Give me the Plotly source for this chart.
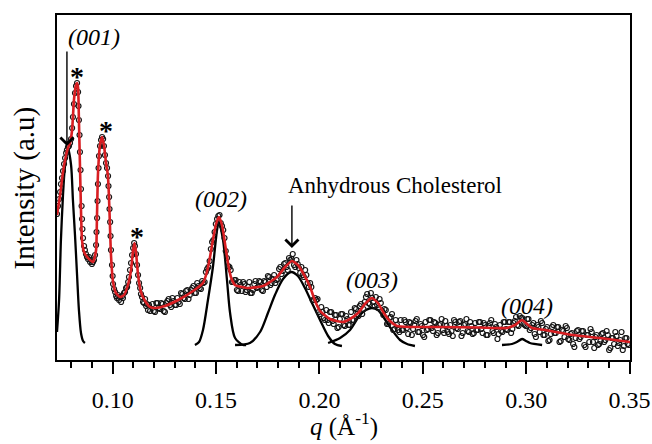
import plotly.graph_objects as go

# ---------------- data ----------------
# measured points, low-q region
qa = [0.0731, 0.0736, 0.0741, 0.0746, 0.0750, 0.0755, 0.0760, 0.0765, 0.0770, 0.0775,
      0.0779, 0.0784, 0.0789, 0.0794, 0.0799, 0.0804, 0.0808, 0.0813, 0.0818, 0.0823,
      0.0828, 0.0833, 0.0835, 0.0837, 0.0840, 0.0842, 0.0845, 0.0847, 0.0850, 0.0852,
      0.0854, 0.0857, 0.0862, 0.0866, 0.0871, 0.0876, 0.0881, 0.0886, 0.0891, 0.0896,
      0.0900, 0.0905, 0.0910, 0.0915, 0.0920, 0.0922, 0.0925, 0.0927, 0.0929, 0.0932,
      0.0934, 0.0939, 0.0944, 0.0949, 0.0954, 0.0958, 0.0963, 0.0968, 0.0973, 0.0978,
      0.0980, 0.0983, 0.0985, 0.0988, 0.0990, 0.0992, 0.0997, 0.1000, 0.1002, 0.1007,
      0.1012, 0.1017, 0.1021, 0.1026, 0.1031, 0.1036, 0.1041, 0.1046, 0.1050, 0.1055,
      0.1060, 0.1065, 0.1070, 0.1075, 0.1079, 0.1084, 0.1089, 0.1094, 0.1099, 0.1104,
      0.1108, 0.1113, 0.1118, 0.1123, 0.1128, 0.1133, 0.1137, 0.1142, 0.1147, 0.1152,
      0.1157, 0.1162, 0.1166, 0.1171, 0.1176, 0.1181]
ia = [146, 154, 161, 168, 176, 182, 189, 196, 202, 207,
      210, 213, 214, 217, 221, 232, 243, 256, 267, 274,
      277, 268, 254, 240, 225, 208, 190, 171, 154, 141,
      131, 122, 114, 110, 106, 103, 101, 103, 98, 100,
      96, 98, 100, 105, 115, 128, 142, 159, 176, 192,
      204, 214, 220, 223, 221, 214, 205, 197, 192, 184,
      174, 163, 151, 138, 124, 110, 95, 84, 76, 71,
      68, 64, 62, 65, 60, 63, 58, 64, 62, 67,
      68, 72, 73, 78, 83, 90, 97, 105, 112, 117,
      114, 106, 95, 85, 77, 72, 66, 63, 58, 57,
      61, 54, 56, 50, 55, 49]

# measured points, higher-q region (first pass)
qb = [0.1193, 0.1205, 0.1217, 0.1229, 0.1241, 0.1253, 0.1265, 0.1277, 0.1289, 0.1301,
      0.1313, 0.1325, 0.1337, 0.1349, 0.1361, 0.1373, 0.1385, 0.1397, 0.1409, 0.1421,
      0.1433, 0.1445, 0.1457, 0.1469, 0.1481, 0.1493, 0.1505, 0.1517, 0.1529, 0.1541,
      0.1553, 0.1565, 0.1577, 0.1589, 0.1601, 0.1613, 0.1625, 0.1637, 0.1649, 0.1661,
      0.1673, 0.1685, 0.1697, 0.1709, 0.1721, 0.1733, 0.1745, 0.1757, 0.1769, 0.1781,
      0.1793, 0.1805, 0.1817, 0.1829, 0.1841, 0.1853, 0.1865, 0.1877, 0.1889, 0.1901,
      0.1913, 0.1925, 0.1937, 0.1949, 0.1961, 0.1973, 0.1985, 0.1997, 0.2009, 0.2021,
      0.2033, 0.2045, 0.2057, 0.2069, 0.2081, 0.2093, 0.2105, 0.2117, 0.2129, 0.2141,
      0.2153, 0.2165, 0.2177, 0.2189, 0.2201, 0.2213, 0.2225, 0.2237, 0.2249, 0.2261,
      0.2273, 0.2285, 0.2297, 0.2309, 0.2321, 0.2333, 0.2345, 0.2357, 0.2369, 0.2381,
      0.2393, 0.2405, 0.2417, 0.2429, 0.2441, 0.2453, 0.2465, 0.2477, 0.2489, 0.2501,
      0.2513, 0.2525, 0.2537, 0.2549, 0.2561, 0.2573, 0.2585, 0.2597, 0.2609, 0.2621,
      0.2633, 0.2645, 0.2657, 0.2669, 0.2681, 0.2693, 0.2705, 0.2717, 0.2729, 0.2741,
      0.2753, 0.2765, 0.2777, 0.2789, 0.2801, 0.2813, 0.2825, 0.2837, 0.2849, 0.2861,
      0.2873, 0.2885, 0.2897, 0.2909, 0.2921, 0.2933, 0.2945, 0.2957, 0.2969, 0.2981,
      0.2993, 0.3005, 0.3017, 0.3029, 0.3041, 0.3053, 0.3065, 0.3077, 0.3089, 0.3101,
      0.3113, 0.3125, 0.3137, 0.3149, 0.3161, 0.3173, 0.3185, 0.3197, 0.3209, 0.3221,
      0.3233, 0.3245, 0.3257, 0.3269, 0.3281, 0.3293, 0.3305, 0.3317, 0.3329, 0.3341,
      0.3353, 0.3365, 0.3377, 0.3389, 0.3401, 0.3413, 0.3425, 0.3437, 0.3449, 0.3461,
      0.3473, 0.3485, 0.3497]
ib = [56, 48, 57, 51, 56, 48, 59, 55, 62, 55,
      62, 56, 66, 61, 70, 65, 72, 67, 77, 72,
      79, 78, 91, 99, 118, 128, 141, 145, 134, 122,
      102, 93, 78, 80, 70, 78, 69, 76, 70, 78,
      67, 76, 72, 79, 70, 79, 73, 83, 77, 85,
      80, 91, 86, 96, 93, 102, 101, 95, 100, 92,
      93, 83, 85, 73, 73, 60, 60, 48, 53, 42,
      50, 37, 48, 36, 45, 33, 46, 35, 44, 35,
      48, 40, 51, 44, 56, 51, 63, 57, 67, 58,
      63, 52, 57, 45, 50, 36, 43, 30, 40, 30,
      40, 30, 38, 26, 37, 31, 39, 28, 36, 25,
      38, 31, 40, 29, 37, 27, 36, 30, 39, 28,
      35, 24, 38, 31, 39, 27, 36, 29, 38, 26,
      37, 30, 38, 27, 35, 25, 37, 29, 36, 21,
      35, 28, 38, 30, 38, 31, 39, 35, 44, 42,
      35, 41, 30, 35, 26, 35, 28, 37, 25, 33,
      20, 33, 27, 33, 18, 30, 23, 32, 20, 27,
      13, 29, 21, 29, 15, 25, 18, 28, 12, 25,
      16, 26, 18, 29, 10, 22, 16, 24, 17, 28,
      14, 22, 15]

# measured points, higher-q region (interleaved second pass)
qc = [0.1199, 0.1211, 0.1223, 0.1235, 0.1247, 0.1259, 0.1271, 0.1283, 0.1295, 0.1307,
      0.1319, 0.1331, 0.1343, 0.1355, 0.1367, 0.1379, 0.1391, 0.1403, 0.1415, 0.1427,
      0.1439, 0.1451, 0.1463, 0.1475, 0.1487, 0.1499, 0.1511, 0.1523, 0.1535, 0.1547,
      0.1559, 0.1571, 0.1583, 0.1595, 0.1607, 0.1619, 0.1631, 0.1643, 0.1655, 0.1667,
      0.1679, 0.1691, 0.1703, 0.1715, 0.1727, 0.1739, 0.1751, 0.1763, 0.1775, 0.1787,
      0.1799, 0.1811, 0.1823, 0.1835, 0.1847, 0.1859, 0.1871, 0.1883, 0.1895, 0.1907,
      0.1919, 0.1931, 0.1943, 0.1955, 0.1967, 0.1979, 0.1991, 0.2003, 0.2015, 0.2027,
      0.2039, 0.2051, 0.2063, 0.2075, 0.2087, 0.2099, 0.2111, 0.2123, 0.2135, 0.2147,
      0.2159, 0.2171, 0.2183, 0.2195, 0.2207, 0.2219, 0.2231, 0.2243, 0.2255, 0.2267,
      0.2279, 0.2291, 0.2303, 0.2315, 0.2327, 0.2339, 0.2351, 0.2363, 0.2375, 0.2387,
      0.2399, 0.2411, 0.2423, 0.2435, 0.2447, 0.2459, 0.2471, 0.2483, 0.2495, 0.2507,
      0.2519, 0.2531, 0.2543, 0.2555, 0.2567, 0.2579, 0.2591, 0.2603, 0.2615, 0.2627,
      0.2639, 0.2651, 0.2663, 0.2675, 0.2687, 0.2699, 0.2711, 0.2723, 0.2735, 0.2747,
      0.2759, 0.2771, 0.2783, 0.2795, 0.2807, 0.2819, 0.2831, 0.2843, 0.2855, 0.2867,
      0.2879, 0.2891, 0.2903, 0.2915, 0.2927, 0.2939, 0.2951, 0.2963, 0.2975, 0.2987,
      0.2999, 0.3011, 0.3023, 0.3035, 0.3047, 0.3059, 0.3071, 0.3083, 0.3095, 0.3107,
      0.3119, 0.3131, 0.3143, 0.3155, 0.3167, 0.3179, 0.3191, 0.3203, 0.3215, 0.3227,
      0.3239, 0.3251, 0.3263, 0.3275, 0.3287, 0.3299, 0.3311, 0.3323, 0.3335, 0.3347,
      0.3359, 0.3371, 0.3383, 0.3395, 0.3407, 0.3419, 0.3431, 0.3443, 0.3455, 0.3467,
      0.3479, 0.3491]
ic = [49, 57, 52, 57, 49, 57, 61, 53, 59, 55,
      58, 67, 62, 69, 61, 70, 74, 67, 74, 71,
      77, 88, 93, 111, 120, 136, 144, 137, 130, 109,
      94, 90, 78, 80, 69, 75, 78, 68, 73, 67,
      70, 79, 73, 78, 69, 78, 84, 75, 81, 77,
      81, 93, 89, 97, 90, 100, 106, 93, 96, 87,
      85, 90, 77, 77, 60, 62, 61, 46, 48, 40,
      40, 48, 39, 45, 32, 41, 46, 34, 41, 35,
      40, 52, 46, 54, 46, 58, 66, 56, 62, 54,
      55, 61, 49, 51, 36, 42, 46, 31, 35, 28,
      30, 40, 32, 38, 25, 35, 41, 28, 34, 23,
      30, 40, 32, 38, 25, 35, 41, 27, 34, 26,
      29, 40, 32, 38, 24, 35, 41, 28, 34, 27,
      30, 38, 31, 37, 25, 34, 40, 27, 33, 26,
      29, 38, 31, 38, 27, 37, 43, 34, 42, 36,
      34, 41, 32, 37, 23, 33, 39, 25, 31, 19,
      26, 35, 27, 33, 19, 29, 34, 21, 26, 16,
      22, 30, 23, 29, 13, 25, 31, 18, 23, 15,
      19, 27, 20, 25, 12, 22, 28, 14, 20, 10,
      22, 16]

# total fit (red)
fit_q = [0.0731, 0.0746, 0.0760, 0.0775, 0.0784, 0.0794, 0.0804, 0.0813, 0.0823, 0.0828,
         0.0833, 0.0837, 0.0842, 0.0847, 0.0852, 0.0862, 0.0881, 0.0905, 0.0920, 0.0924,
         0.0929, 0.0939, 0.0949, 0.0958, 0.0968, 0.0977, 0.0982, 0.0987, 0.0992, 0.1002,
         0.1016, 0.1036, 0.1055, 0.1074, 0.1089, 0.1099, 0.1106, 0.1113, 0.1123, 0.1137,
         0.1157, 0.1181, 0.1205, 0.1253, 0.1326, 0.1389, 0.1437, 0.1456, 0.1471, 0.1485,
         0.1500, 0.1514, 0.1529, 0.1543, 0.1558, 0.1572, 0.1592, 0.1650, 0.1727, 0.1795,
         0.1834, 0.1867, 0.1896, 0.1921, 0.1955, 0.1979, 0.2003, 0.2051, 0.2114, 0.2148,
         0.2187, 0.2220, 0.2254, 0.2283, 0.2308, 0.2341, 0.2375, 0.2438, 0.2583, 0.2777,
         0.2907, 0.2946, 0.2980, 0.3004, 0.3028, 0.3091, 0.3226, 0.3357, 0.3502]
fit_i = [145, 165, 188, 205, 212, 217, 230, 260, 275, 277,
         272, 240, 195, 150, 120, 108, 102, 98, 110, 140,
         185, 215, 223, 215, 197, 185, 165, 135, 105, 78,
         67, 63, 65, 75, 90, 110, 117, 108, 85, 68,
         59, 53, 52, 54, 61, 69, 77, 88, 103, 120,
         136, 143, 135, 117, 97, 83, 75, 72, 74, 83,
         93, 99, 95, 87, 73, 59, 49, 41, 38, 41,
         47, 56, 62, 57, 48, 39, 34, 33, 33, 32.5,
         32, 35, 40, 36, 32, 30, 25, 22, 18]

# component peaks (black)
p001_q = [0.0731, 0.0741, 0.0750, 0.0760, 0.0770, 0.0784, 0.0799, 0.0808, 0.0818, 0.0828,
          0.0837, 0.0847, 0.0857, 0.0866]
p001_i = [28, 60, 120, 165, 195, 212, 195, 160, 125, 85, 50, 27, 19, 17]
p002_q = [0.1398, 0.1418, 0.1437, 0.1461, 0.1485, 0.1505, 0.1514, 0.1534, 0.1553, 0.1568,
          0.1592, 0.1631, 0.1645]
p002_i = [15, 18, 30, 60, 93, 130, 138, 120, 80, 47, 22, 15, 15]
pchol_q = [0.1592, 0.1664, 0.1713, 0.1751, 0.1785, 0.1824, 0.1863, 0.1896, 0.1930, 0.1964,
           0.2003, 0.2042, 0.2075, 0.2109]
pchol_i = [15, 17, 28, 47, 65, 81, 88, 84, 72, 57, 40, 24, 16, 14]
p003_q = [0.2042, 0.2100, 0.2148, 0.2196, 0.2225, 0.2254, 0.2283, 0.2303, 0.2351, 0.2390,
          0.2424, 0.2462]
p003_i = [17, 22, 30, 45, 50, 52, 50, 45, 30, 20, 16, 14]
p004_q = [0.2883, 0.2931, 0.2955, 0.2980, 0.2999, 0.3018, 0.3077]
p004_i = [15, 16, 18, 21, 19, 17, 15]

x_ticks = [0.10, 0.15, 0.20, 0.25, 0.30, 0.35]
x_ticklabels = ["0.10", "0.15", "0.20", "0.25", "0.30", "0.35"]

# ---------------- figure ----------------
FONT = "Liberation Serif, Times New Roman, serif"
RED = "#d81e22"

fig = go.Figure()
for cq, ci in [(p001_q, p001_i), (p002_q, p002_i), (pchol_q, pchol_i),
               (p003_q, p003_i), (p004_q, p004_i)]:
    fig.add_trace(go.Scatter(x=cq, y=ci, mode="lines",
                             line=dict(color="black", width=2.3, shape="spline", smoothing=0.8),
                             showlegend=False, hoverinfo="skip"))

fig.add_trace(go.Scatter(x=qa + qb + qc, y=ia + ib + ic, mode="markers",
                         marker=dict(symbol="circle-open", size=5, color="#151515",
                                     line=dict(width=1.2, color="#151515")),
                         showlegend=False))

fig.add_trace(go.Scatter(x=fit_q, y=fit_i, mode="lines",
                         line=dict(color=RED, width=2.6, shape="spline", smoothing=0.5),
                         showlegend=False))

ann = []
def txt(x, y, s, size=24, **kw):
    d = dict(x=x, y=y, xref="x", yref="y", text=s, showarrow=False,
             xanchor="center", yanchor="middle",
             font=dict(family=FONT, size=size, color="black"))
    d.update(kw)
    ann.append(d)

txt(0.0910, 323, "<i>(001)</i>")
txt(0.0828, 284, "<b>*</b>", size=28)
txt(0.0968, 230, "<b>*</b>", size=28)
txt(0.1118, 124, "<b>*</b>", size=28)
txt(0.1524, 161, "<i>(002)</i>")
txt(0.1838, 175, "Anhydrous Cholesterol", size=23, xanchor="left")
txt(0.2254, 80, "<i>(003)</i>")
txt(0.3004, 54, "<i>(004)</i>")

# arrows
ann.append(dict(x=0.0779, y=214, xref="x", yref="y", ax=0, ay=-96, axref="pixel", ayref="pixel",
                showarrow=True, arrowhead=4, arrowsize=1.8, arrowwidth=1.4, arrowcolor="black", text=""))
ann.append(dict(x=0.1867, y=112, xref="x", yref="y", ax=0, ay=-44, axref="pixel", ayref="pixel",
                showarrow=True, arrowhead=4, arrowsize=1.8, arrowwidth=1.4, arrowcolor="black", text=""))

# axis titles
ann.append(dict(x=-0.056, y=0.5, xref="paper", yref="paper", text="Intensity (a.u)",
                textangle=-90, showarrow=False, xanchor="center", yanchor="middle",
                font=dict(family=FONT, size=29, color="black")))
ann.append(dict(x=0.5, y=-0.188, xref="paper", yref="paper",
                text="<i>q</i> (Å<sup>-1</sup>)", showarrow=False,
                xanchor="center", yanchor="middle",
                font=dict(family=FONT, size=25, color="black")))

fig.update_layout(
    width=652, height=444,
    margin=dict(l=57, r=22, t=15, b=84, autoexpand=False),
    paper_bgcolor="white", plot_bgcolor="white",
    annotations=ann,
    showlegend=False,
)
fig.update_xaxes(range=[0.0731, 0.3502], tickvals=x_ticks, ticktext=x_ticklabels,
                 ticks="outside", ticklen=12, tickwidth=1.6, tickcolor="black",
                 ticklabelstandoff=5,
                 tickfont=dict(family=FONT, size=24, color="black"),
                 minor=dict(dtick=0.01, tick0=0.0, ticks="outside", ticklen=6,
                            tickwidth=1.6, tickcolor="black", showgrid=False),
                 showline=True, linecolor="black", linewidth=1.8, mirror=True,
                 showgrid=False, zeroline=False, automargin=False)
fig.update_yaxes(range=[0, 345], showticklabels=False, ticks="",
                 showline=True, linecolor="black", linewidth=1.8, mirror=True,
                 showgrid=False, zeroline=False, automargin=False)

fig.write_html("out.html")
